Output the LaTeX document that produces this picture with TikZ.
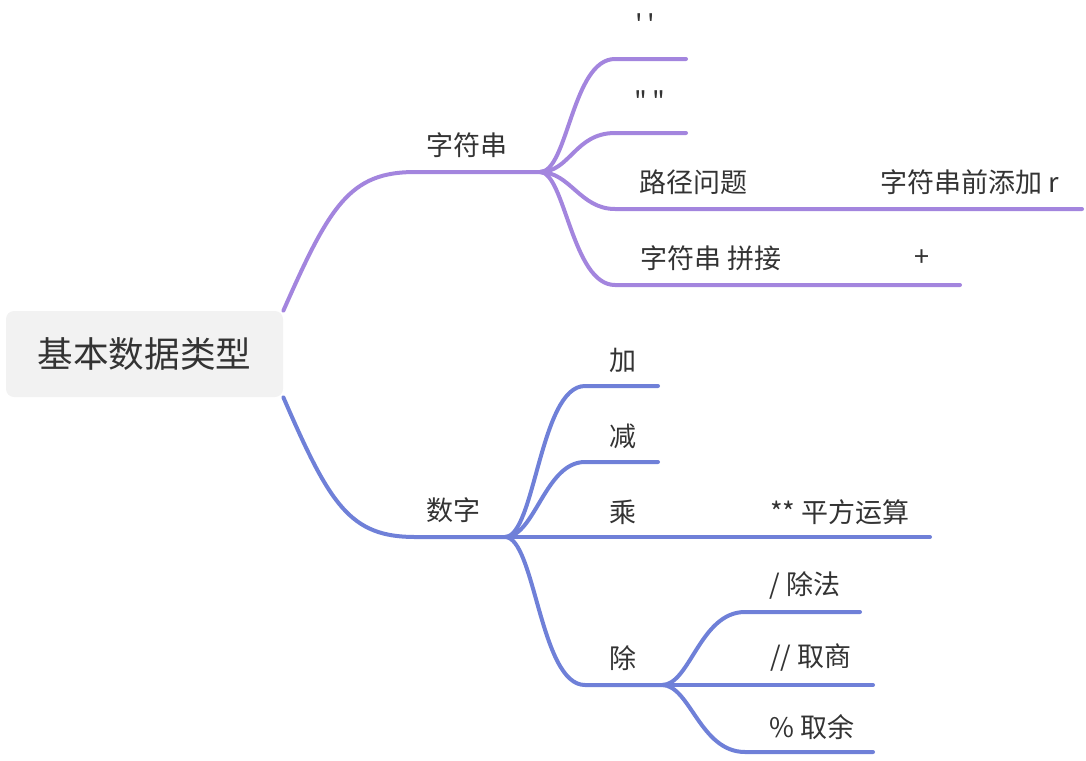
\documentclass[tikz,border=0pt]{standalone}
\usepackage{fontspec}
\setmainfont{Noto Sans CJK SC}[Ligatures=TeXOff]
\usepackage{xcolor}
\usetikzlibrary{positioning,calc}
\definecolor{strcol}{HTML}{A385DE}
\definecolor{numcol}{HTML}{6F80D8}
\definecolor{txtcol}{HTML}{333333}

\begin{document}
\begin{tikzpicture}[
            x=0.5pt, y=-0.5pt,
            topic/.style={text=txtcol, inner sep=0pt, font=\fontsize{13.5}{15}\selectfont},
            rootbox/.style={fill=black!5, rounded corners=4pt, minimum width=138.5pt, minimum height=43pt, text=txtcol, font=\fontsize{17.8}{20}\selectfont},
            strline/.style={draw=strcol, line width=2pt, line cap=round},
            numline/.style={draw=numcol, line width=2pt, line cap=round}
        ]
            \useasboundingbox (0,0) rectangle (1086,760);

            \node[rootbox] (root) at (144.5,354) {基本数据类型};

            % 字符串
            \node[topic] (str) at (467,145) {字符串};
            \node[topic] (sq) at (645,24) {\symbol{39}\,\symbol{39}};
            \node[topic] (dq) at (650,101) {\symbol{34}\,\symbol{34}};
            \node[topic] (path) at (693,182) {路径问题};
            \node[topic] (raw) at (970,182) {字符串前添加 r};
            \node[topic] (cat) at (711,258) {字符串 拼接};
            \node[topic] (plus) at (922,258) {+};

            \coordinate (strA) at (415,172);
            \coordinate (strB) at (540,172);
            \draw[strline] (root.north east) .. controls (330,205) and (350,172) .. (strA) -- (strB);
            \draw[strline] (strB) .. controls (568,172) and (572,59) .. (615,59) -- (686,59);
            \draw[strline] (strB) .. controls (570,172) and (575,133) .. (615,133) -- (686,133);
            \draw[strline] (strB) .. controls (570,172) and (580,209) .. (615,209) -- (765,209) -- (1082,209);
            \draw[strline] (strB) .. controls (565,172) and (572,285) .. (615,285) -- (960,285);

            % 数字
            \node[topic] (num) at (453,510) {数字};
            \node[topic] (add) at (623,360) {加};
            \node[topic] (sub) at (623,436) {减};
            \node[topic] (mul) at (623,512) {乘};
            \node[topic] (pow) at (840,512) {** 平方运算};
            \node[topic] (div) at (623,658) {除};
            \node[topic] (tdiv) at (805,585) {/ 除法};
            \node[topic] (fdiv) at (811,658) {// 取商};
            \node[topic] (mod) at (812,727) {\% 取余};

            \coordinate (numA) at (415,537);
            \coordinate (numB) at (505,537);
            \coordinate (divB) at (662,685);
            \draw[numline] (root.south east) .. controls (330,505) and (350,537) .. (numA) -- (numB);
            \draw[numline] (numB) .. controls (535,537) and (540,386) .. (585,386) -- (658,386);
            \draw[numline] (numB) .. controls (535,537) and (545,462) .. (585,462) -- (658,462);
            \draw[numline] (numB) -- (660,537) -- (930,537);
            \draw[numline] (numB) .. controls (535,537) and (540,685) .. (585,685) -- (divB);
            \draw[numline] (divB) .. controls (690,685) and (700,612) .. (745,612) -- (860,612);
            \draw[numline] (divB) -- (873,685);
            \draw[numline] (divB) .. controls (690,685) and (700,752) .. (745,752) -- (873,752);
        \end{tikzpicture}
\end{document}
